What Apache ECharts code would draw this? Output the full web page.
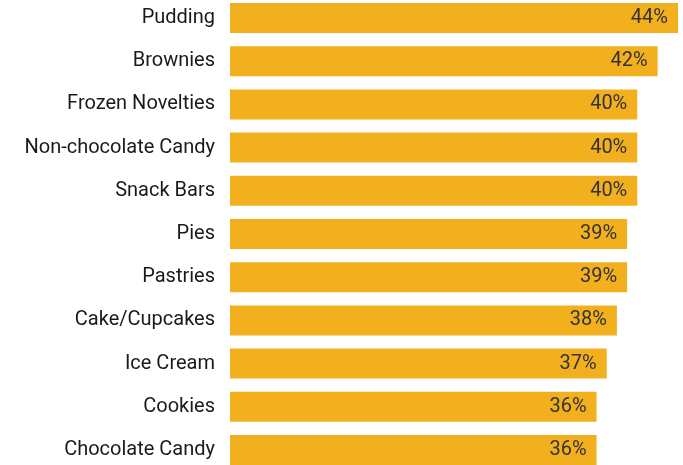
<!DOCTYPE html>
<html>
<head>
<meta charset="utf-8">
<script src="https://cdn.jsdelivr.net/npm/echarts@6/dist/echarts.min.js"></script>
<style>
  html, body { margin: 0; padding: 0; background: #ffffff; }
  #chart { width: 683px; height: 465px; }
</style>
</head>
<body>
<div id="chart"></div>
<script>
// Dessert categories, listed top to bottom
const categories = [
  'Pudding', 'Brownies', 'Frozen Novelties', 'Non-chocolate Candy', 'Snack Bars',
  'Pies', 'Pastries', 'Cake/Cupcakes', 'Ice Cream', 'Cookies', 'Chocolate Candy'
];
// Share of respondents, percent
const shares = [44, 42, 40, 40, 40, 39, 39, 38, 37, 36, 36];

const chart = echarts.init(document.getElementById('chart'), null, { renderer: 'canvas' });

chart.setOption({
  animation: false,
  grid: {
    left: 230, right: 5, top: -3.6, height: 475.2,
    containLabel: false,
    outerBoundsMode: 'none'
  },
  xAxis: {
    type: 'value',
    min: 0,
    max: 44,
    show: false
  },
  yAxis: {
    type: 'category',
    inverse: true,
    data: categories,
    axisLine: { show: false },
    axisTick: { show: false },
    axisLabel: {
      margin: 15,
      color: '#1a1a1a',
      fontFamily: 'Roboto',
      fontSize: 20
    }
  },
  series: [{
    type: 'bar',
    data: shares,
    barWidth: 30,
    itemStyle: { color: '#F2B01F' },
    label: {
      show: true,
      position: 'insideRight',
      distance: 10,
      formatter: '{c}%',
      color: '#333333',
      fontFamily: 'Roboto',
      fontSize: 20
    }
  }]
});
</script>
</body>
</html>
